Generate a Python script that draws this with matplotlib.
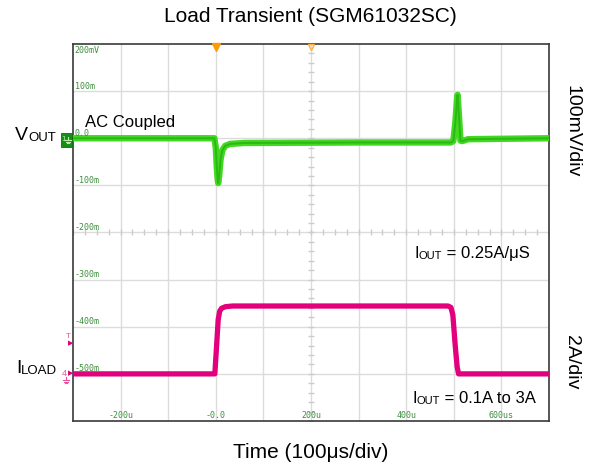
import numpy as np
import matplotlib.pyplot as plt
from matplotlib.patches import Rectangle
from matplotlib.lines import Line2D

plt.rcParams["font.family"] = ["Liberation Sans", "DejaVu Sans"]

# Scope screen: time in us (100 us/div), CH1 in mV (100 mV/div), CH4 at 2 A/div
vout_time = [-300, -3, 0, 2, 4, 5, 7, 10, 14, 20, 30, 60, 300, 494, 499, 503, 507, 508, 511, 514, 518, 530, 700]
vout_mv = [0, 0, -20, -60, -88, -95, -80, -45, -25, -16, -12, -10, -9, -9, -6, 30, 85, 92, 45, -5, -6, -2, 0]

iload_time = [-300, -2, 2, 5, 8, 12, 20, 35, 488, 494, 498, 503, 507, 510, 700]
iload_amp = [0.1, 0.1, 1.4, 2.4, 2.75, 2.88, 2.95, 2.98, 2.98, 2.92, 2.6, 1.3, 0.4, 0.1, 0.1]

ILOAD_ZERO_MV = -505   # CH4 ground reference on the CH1 screen scale
MV_PER_AMP = 50        # 100 mV/div against 2 A/div

volt_levels = [200, 100, 0, -100, -200, -300, -400, -500]
volt_labels = ["200mV", "100m", "0.0", "-100m", "-200m", "-300m", "-400m", "-500m"]
time_levels = [-200, 0, 200, 400, 600]
time_labels = ["-200u", "-0.0", "200u", "400u", "600us"]

W, H = 593, 473
GREEN = "#40d820"
GREEN_CORE = "#2cb814"
PINK = "#e2007c"
SCOPE_TXT = "#3d8f3d"


def fxy(px, py):
    return px / W, 1 - py / H


fig = plt.figure(figsize=(W / 100, H / 100), dpi=100)
ax = fig.add_axes([73 / W, 1 - 421 / H, 476 / W, 377 / H])
ax.set_xlim(-300, 700)
ax.set_ylim(-600, 200)
ax.set_xticks([])
ax.set_yticks([])
for s in ax.spines.values():
    s.set_color("#3a3a3a")
    s.set_linewidth(1.2)

# graticule
for t in np.arange(-200, 700, 100):
    ax.axvline(t, color="#dcdcdc", lw=1, zorder=0)
for v in np.arange(-500, 200, 100):
    ax.axhline(v, color="#dcdcdc", lw=1, zorder=0)
minor_t = np.arange(-300, 701, 25)
minor_v = np.arange(-600, 201, 20)
ax.plot(minor_t, np.full(minor_t.shape, -200), ls="none", marker="|", ms=4,
        color="#cccccc", zorder=0)
ax.plot(np.full(minor_v.shape, 200), minor_v, ls="none", marker="_", ms=4,
        color="#cccccc", zorder=0)

# waveforms
ax.plot(vout_time, vout_mv, color=GREEN, lw=4.6, solid_joinstyle="round", zorder=3)
ax.plot(vout_time, vout_mv, color=GREEN_CORE, lw=1.4, zorder=4)
iload_mv = ILOAD_ZERO_MV + MV_PER_AMP * np.array(iload_amp)
ax.plot(iload_time, iload_mv, color=PINK, lw=3.8, solid_joinstyle="round", zorder=3)

# on-screen scale readouts
for v, lab in zip(volt_levels, volt_labels):
    va = "top" if v == 200 else "bottom"
    yy = v - 4 if v == 200 else v + 1
    ax.text(-296, yy, lab, fontsize=6, family="DejaVu Sans Mono",
            color=SCOPE_TXT, ha="left", va=va, zorder=5)
for t, lab in zip(time_levels, time_labels):
    ax.text(t, -598, lab, fontsize=6, family="DejaVu Sans Mono",
            color=SCOPE_TXT, ha="center", va="bottom", zorder=5)

# trigger markers along the top edge
ax.plot(0, 193, marker="v", ms=5.5, color="#ff9a00", clip_on=False, zorder=6)
ax.plot(200, 194, marker="v", ms=4.5, mfc="none", mec="#ffae40", mew=1,
        clip_on=False, zorder=6)


def ground(px, py, color):
    # little ground symbol, top of stem at (px, py)
    fig.add_artist(Line2D([px / W, px / W], [1 - py / H, 1 - (py + 3) / H],
                          color=color, lw=0.8, transform=fig.transFigure))
    for i, half in enumerate([3, 2, 1]):
        yy = 1 - (py + 3 + 1.6 * i) / H
        fig.add_artist(Line2D([(px - half) / W, (px + half) / W], [yy, yy],
                              color=color, lw=0.8, transform=fig.transFigure))


# CH1 marker
fig.add_artist(Rectangle(fxy(61, 147), 11 / W, 14 / H, transform=fig.transFigure,
                         fc="#178f17", ec="#0f6f0f", lw=0.6))
fig.text(*fxy(63.5, 139), "1", fontsize=5, color="#b8f0a8", family="DejaVu Sans Mono",
         ha="center", va="center")
ground(68, 137, "#b8f0a8")

# CH4 and level markers
fig.text(*fxy(68, 336), "T", fontsize=6, color="#f050a0", ha="center", va="center")
fig.text(*fxy(70.5, 344), "\u25B6", fontsize=5, color=PINK, ha="center", va="center")
fig.text(*fxy(64.5, 373), "4", fontsize=6.5, color="#f050a0", ha="center", va="center")
fig.text(*fxy(70.5, 374), "\u25B6", fontsize=5, color=PINK, ha="center", va="center")
ground(66, 377, "#f050a0")


def sub_label(px, py, main, sub, tail="", size=12, sub_size=8):
    t = fig.text(*fxy(px, py), main, fontsize=size, ha="left", va="baseline")
    s = ax.annotate(sub, xy=(1, 0), xycoords=t, fontsize=sub_size,
                    ha="left", va="bottom")
    if tail:
        ax.annotate(tail, xy=(1, 0), xycoords=(s, t), fontsize=size,
                    ha="left", va="bottom")


sub_label(15, 140, "V", "OUT", size=14, sub_size=9.5)
sub_label(16, 373, "I", "LOAD", size=14, sub_size=9.5)
sub_label(414, 258, "I", "OUT", " = 0.25A/\u03bcS")
sub_label(412, 403, "I", "OUT", " = 0.1A to 3A")
fig.text(*fxy(85, 127), "AC Coupled", fontsize=12, ha="left", va="baseline")

fig.text(*fxy(310, 17), "Load Transient (SGM61032SC)", fontsize=15,
         ha="center", va="center")
fig.text(*fxy(311, 452), "Time (100\u03bcs/div)", fontsize=15,
         ha="center", va="center")
fig.text(*fxy(572, 131), "100mV/div", fontsize=14, rotation=270,
         ha="center", va="center")
fig.text(*fxy(572, 362), "2A/div", fontsize=14, rotation=270,
         ha="center", va="center")

fig.savefig("out.png", dpi=100)
